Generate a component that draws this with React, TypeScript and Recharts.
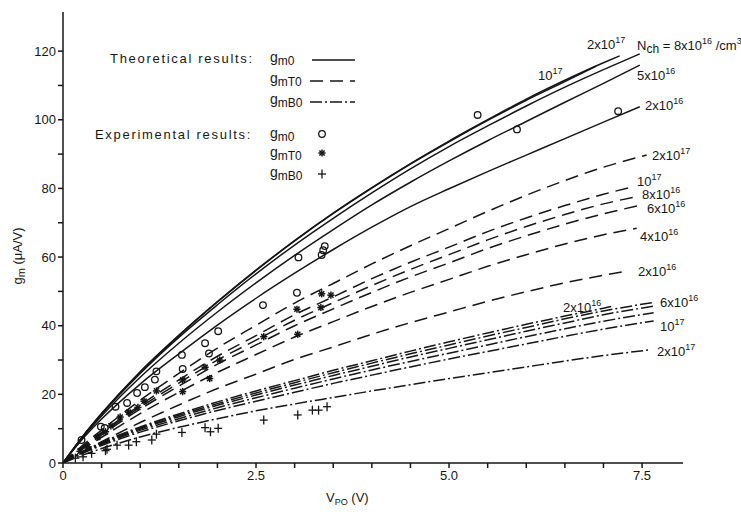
import React from "react";
import { ComposedChart, Line, Scatter, XAxis, YAxis } from "recharts";

const FONT = "'Liberation Sans', Arial, sans-serif";
const INK = "#161616";

// V_PO grid (V); the last value of every curve sits at that curve's own end point
const vGrid = [0, 0.25, 0.5, 1, 1.5, 2, 2.5, 3, 3.5, 4, 4.5, 5, 5.5, 6, 6.5, 7];

// theoretical g_m0 (solid), uA/V
const gm0_2e17 = [0, 7.6, 14.4, 26.6, 37.2, 47, 56.2, 64.8, 72.8, 80.2, 87.2, 93.8, 100, 106, 111.5, 116.6, 118.6];
const gm0_1e17 = [0, 7.6, 14.4, 26.5, 37.1, 46.9, 56.1, 64.7, 72.7, 80.1, 87.1, 93.6, 99.8, 105.7, 111.1, 115.6];
const gm0_8e16 = [0, 7.5, 14.2, 26.1, 36.6, 46.1, 55.1, 63.5, 71.3, 78.7, 85.7, 92.2, 98.2, 104, 109.5, 114.6, 119.2];
const gm0_5e16 = [0, 7.3, 13.7, 25, 34.9, 44, 52.5, 60.5, 68, 75.2, 81.8, 88, 93.9, 99.5, 105.1, 110.6, 115.9];
const gm0_2e16 = [0, 6.9, 12.8, 23, 31.8, 40.2, 48, 55.3, 62.2, 68.7, 74.7, 79.9, 84.9, 89.7, 94.5, 99.3, 103.8];

// theoretical g_mT0 (dashed)
const gmT0_2e17 = [0, 5.1, 9.6, 18.3, 26.1, 33.5, 40.1, 46.6, 52.3, 58, 63.3, 68.3, 73.3, 78, 82.3, 86.2, 89.7];
const gmT0_1e17 = [0, 4.7, 8.9, 16.9, 24.2, 31.1, 37.1, 43.2, 48.4, 53.7, 58.5, 62.9, 67.4, 71.4, 75, 78.3, 80.5];
const gmT0_8e16 = [0, 4.5, 8.6, 16.3, 23.3, 30, 35.8, 41.6, 46.7, 51.7, 56.4, 60.7, 65, 68.9, 72.4, 75.5, 77.6];
const gmT0_6e16 = [0, 4.3, 8.2, 15.7, 22.4, 28.8, 34.4, 40, 44.9, 49.7, 54.2, 58.3, 62.5, 66.2, 69.6, 72.6, 75.2];
const gmT0_4e16 = [0, 4, 7.5, 14.4, 20.6, 26.4, 31.6, 36.7, 41.2, 45.6, 49.7, 53.5, 57.3, 60.7, 63.8, 66.5, 68.4];
const gmT0_2e16 = [0, 3.3, 6.2, 11.8, 16.9, 21.7, 25.9, 30.2, 33.8, 37.5, 40.9, 44, 47.1, 49.9, 52.5, 54.7, 56];

// theoretical g_mB0 (dash-dot)
const gmB0_2e16 = [0, 3.2, 6, 10.5, 14.3, 17.8, 21, 24, 27, 29.8, 32.6, 35.3, 37.9, 40.4, 42.8, 45.1, 45.6];
const gmB0_4e16 = [0, 3.1, 5.8, 10.2, 13.9, 17.3, 20.4, 23.4, 26.3, 29.1, 31.8, 34.4, 37, 39.5, 42, 44.3, 46.8];
const gmB0_6e16 = [0, 3, 5.6, 9.9, 13.5, 16.8, 19.8, 22.7, 25.5, 28.2, 30.9, 33.4, 35.9, 38.4, 40.8, 43.2, 45.7];
const gmB0_8e16 = [0, 2.9, 5.4, 9.5, 12.9, 16.1, 19, 21.8, 24.5, 27.1, 29.6, 32, 34.4, 36.8, 39.1, 41.3, 43.8];
const gmB0_1e17 = [0, 2.8, 5.1, 9, 12.3, 15.3, 18, 20.6, 23.2, 25.6, 28, 30.3, 32.5, 34.7, 36.9, 39, 41.4];
const gmB0_2e17 = [0, 2.3, 4.2, 7.6, 10.4, 12.9, 15.2, 17.2, 19.1, 21, 22.8, 24.6, 26.3, 28, 29.7, 31.3, 32.9];

// experimental points
const expM0X = [0.24, 0.49, 0.54, 0.68, 0.83, 0.96, 1.06, 1.19, 1.21, 1.54, 1.55, 1.84, 1.89, 2.01, 2.59, 3.03, 3.05, 3.35, 3.37, 3.39, 5.37, 5.88, 7.19];
const expM0Y = [6.7, 10.6, 10.2, 16.4, 17.5, 20.4, 22.1, 24.3, 26.7, 31.5, 27.4, 34.9, 31.9, 38.4, 46, 49.6, 59.9, 60.6, 62, 63.2, 101.4, 97.2, 102.5];
const expT0X = [0.22, 0.32, 0.45, 0.55, 0.62, 0.74, 0.85, 0.97, 1.05, 1.21, 1.55, 1.55, 1.84, 1.9, 2.03, 2.6, 3.03, 3.04, 3.34, 3.35, 3.47];
const expT0Y = [3.4, 4.7, 7.5, 9.1, 10.8, 13.4, 14.8, 16.2, 18, 21, 20.8, 24.2, 27.9, 24.6, 30, 36.8, 44.8, 37.5, 45.3, 49.3, 48.9];
const expB0X = [0.16, 0.26, 0.37, 0.55, 0.57, 0.7, 0.85, 0.95, 1.15, 1.21, 1.54, 1.84, 1.91, 2.01, 2.6, 3.04, 3.23, 3.31, 3.42];
const expB0Y = [1.4, 1.8, 2.8, 3.6, 4, 5.2, 5.2, 6.2, 6.7, 8.4, 8.9, 10.3, 9.1, 10.1, 12.5, 14, 15.4, 15.4, 16.4];

const xTicks = [0, 0.5, 1, 1.5, 2, 2.5, 3, 3.5, 4, 4.5, 5, 5.5, 6, 6.5, 7, 7.5];
const yTicks = [0, 10, 20, 30, 40, 50, 60, 70, 80, 90, 100, 110, 120];

const curve = (ys: number[], endX: number) =>
  ys.map((y, i) => ({ x: i < ys.length - 1 ? vGrid[i] : endX, y }));
const points = (xs: number[], ys: number[]) => xs.map((x, i) => ({ x, y: ys[i] }));

const DASH = "13 7";
const DASHDOT = "12 3 2 3";

const series = [
  { d: curve(gm0_2e17, 7.21), dash: undefined },
  { d: curve(gm0_1e17, 6.9), dash: undefined },
  { d: curve(gm0_8e16, 7.47), dash: undefined },
  { d: curve(gm0_5e16, 7.47), dash: undefined },
  { d: curve(gm0_2e16, 7.47), dash: undefined },
  { d: curve(gmT0_2e17, 7.56), dash: DASH },
  { d: curve(gmT0_1e17, 7.39), dash: DASH },
  { d: curve(gmT0_8e16, 7.43), dash: DASH },
  { d: curve(gmT0_6e16, 7.5), dash: DASH },
  { d: curve(gmT0_4e16, 7.43), dash: DASH },
  { d: curve(gmT0_2e16, 7.32), dash: DASH },
  { d: curve(gmB0_2e16, 7.1), dash: DASHDOT },
  { d: curve(gmB0_4e16, 7.65), dash: DASHDOT },
  { d: curve(gmB0_6e16, 7.65), dash: DASHDOT },
  { d: curve(gmB0_8e16, 7.65), dash: DASHDOT },
  { d: curve(gmB0_1e17, 7.65), dash: DASHDOT },
  { d: curve(gmB0_2e17, 7.58), dash: DASHDOT },
];

const Ring = (p: any) => <circle cx={p.cx} cy={p.cy} r={3.3} fill="none" stroke={INK} strokeWidth={1.3} />;
const Star = (p: any) => {
  const { cx, cy } = p;
  const r = 3.6, k = r * 0.72;
  return (
    <g stroke={INK} strokeWidth={1.5}>
      <line x1={cx - r} y1={cy} x2={cx + r} y2={cy} />
      <line x1={cx} y1={cy - r} x2={cx} y2={cy + r} />
      <line x1={cx - k} y1={cy - k} x2={cx + k} y2={cy + k} />
      <line x1={cx - k} y1={cy + k} x2={cx + k} y2={cy - k} />
    </g>
  );
};
const Cross = (p: any) => {
  const { cx, cy } = p;
  return (
    <g stroke={INK} strokeWidth={1.3}>
      <line x1={cx - 4} y1={cy} x2={cx + 4} y2={cy} />
      <line x1={cx} y1={cy - 4.5} x2={cx} y2={cy + 4.5} />
    </g>
  );
};

// "m x 10^e" curve label
function Pow({ x, y, m, e }: { x: number; y: number; m: string; e: string }) {
  return (
    <text x={x} y={y} fontSize={13} fill={INK}>
      {m}
      <tspan>10</tspan>
      <tspan dy={-6} fontSize={9}>{e}</tspan>
    </text>
  );
}

function Gm({ x, y, sub }: { x: number; y: number; sub: string }) {
  return (
    <text x={x} y={y} fontSize={14} fill={INK}>
      g<tspan dy={3} fontSize={12}>{sub}</tspan>
    </text>
  );
}

export default function App() {
  return (
    <div style={{ position: "absolute", left: 0, top: 0, width: 741, height: 517, background: "#fff", fontFamily: FONT }}>
      <ComposedChart width={741} height={517} margin={{ top: 12, right: 58, bottom: 0, left: 0 }}>
        <XAxis
          type="number"
          dataKey="x"
          domain={[0, 8.03]}
          ticks={xTicks}
          tickFormatter={(v: number) => (v % 2.5 === 0 ? (v === 0 ? "0" : v.toFixed(1)) : "")}
          height={54}
          tickSize={5}
          tickMargin={3}
          stroke={INK}
          strokeWidth={1.5}
          tick={{ fill: INK, fontSize: 13, fontFamily: FONT }}
          allowDataOverflow
        />
        <YAxis
          type="number"
          dataKey="y"
          domain={[0, 131.4]}
          ticks={yTicks}
          tickFormatter={(v: number) => (v % 20 === 0 ? String(v) : "")}
          width={63}
          tickSize={5}
          tickMargin={2}
          stroke={INK}
          strokeWidth={1.5}
          tick={{ fill: INK, fontSize: 13, fontFamily: FONT }}
          allowDataOverflow
        />
        {series.map((s, i) => (
          <Line
            key={i}
            data={s.d}
            dataKey="y"
            type="monotone"
            dot={false}
            stroke={INK}
            strokeWidth={1.5}
            strokeDasharray={s.dash}
            isAnimationActive={false}
          />
        ))}
        <Scatter data={points(expM0X, expM0Y)} dataKey="y" shape={Ring} isAnimationActive={false} />
        <Scatter data={points(expT0X, expT0Y)} dataKey="y" shape={Star} isAnimationActive={false} />
        <Scatter data={points(expB0X, expB0Y)} dataKey="y" shape={Cross} isAnimationActive={false} />
      </ComposedChart>

      <svg width={741} height={517} style={{ position: "absolute", left: 0, top: 0, pointerEvents: "none" }} fontFamily={FONT}>
        {/* legend */}
        <text x={110} y={63} fontSize={13} letterSpacing={1.7} fill={INK}>Theoretical results:</text>
        <Gm x={270} y={62} sub="m0" />
        <line x1={312} y1={60} x2={355} y2={60} stroke={INK} strokeWidth={1.5} />
        <Gm x={270} y={83} sub="mT0" />
        <line x1={310} y1={81} x2={355} y2={81} stroke={INK} strokeWidth={1.5} strokeDasharray={DASH} />
        <Gm x={270} y={104} sub="mB0" />
        <line x1={310} y1={102} x2={355} y2={102} stroke={INK} strokeWidth={1.5} strokeDasharray={DASHDOT} />
        <text x={95} y={139} fontSize={13} letterSpacing={1.7} fill={INK}>Experimental results:</text>
        <Gm x={270} y={138} sub="m0" />
        <Ring cx={322} cy={134} />
        <Gm x={270} y={157} sub="mT0" />
        <Star cx={322} cy={153} />
        <Gm x={270} y={177} sub="mB0" />
        <Cross cx={322} cy={174} />

        {/* solid curve labels */}
        <Pow x={587} y={49} m="2x" e="17" />
        <text x={637} y={50} fontSize={13} fill={INK}>
          N<tspan dy={3} fontSize={12}>ch</tspan>
          <tspan dy={-3} fontSize={13}> = 8x10</tspan>
          <tspan dy={-6} fontSize={9}>16</tspan>
          <tspan dy={6} fontSize={13}> /cm</tspan>
          <tspan dy={-6} fontSize={9}>3</tspan>
        </text>
        <Pow x={538} y={80} m="" e="17" />
        <Pow x={637} y={80} m="5x" e="16" />
        <Pow x={645} y={110} m="2x" e="16" />
        {/* dashed curve labels */}
        <Pow x={652} y={160} m="2x" e="17" />
        <Pow x={637} y={186} m="" e="17" />
        <Pow x={642} y={199} m="8x" e="16" />
        <Pow x={647} y={213} m="6x" e="16" />
        <Pow x={640} y={241} m="4x" e="16" />
        <Pow x={638} y={276} m="2x" e="16" />
        {/* dash-dot curve labels */}
        <Pow x={563} y={312} m="2x" e="16" />
        <Pow x={660} y={307} m="6x" e="16" />
        <Pow x={660} y={331} m="" e="17" />
        <Pow x={657} y={356} m="2x" e="17" />

        {/* axis titles */}
        <text x={22} y={256} fontSize={13} fill={INK} textAnchor="middle" transform="rotate(-90 22 256)">
          g<tspan dy={3} fontSize={11}>m</tspan>
          <tspan dy={-3}> (μA/V)</tspan>
        </text>
        <text x={326} y={502} fontSize={13} fill={INK}>
          V<tspan dy={3} fontSize={9}>PO</tspan>
          <tspan dy={-3}> (V)</tspan>
        </text>
      </svg>
    </div>
  );
}
